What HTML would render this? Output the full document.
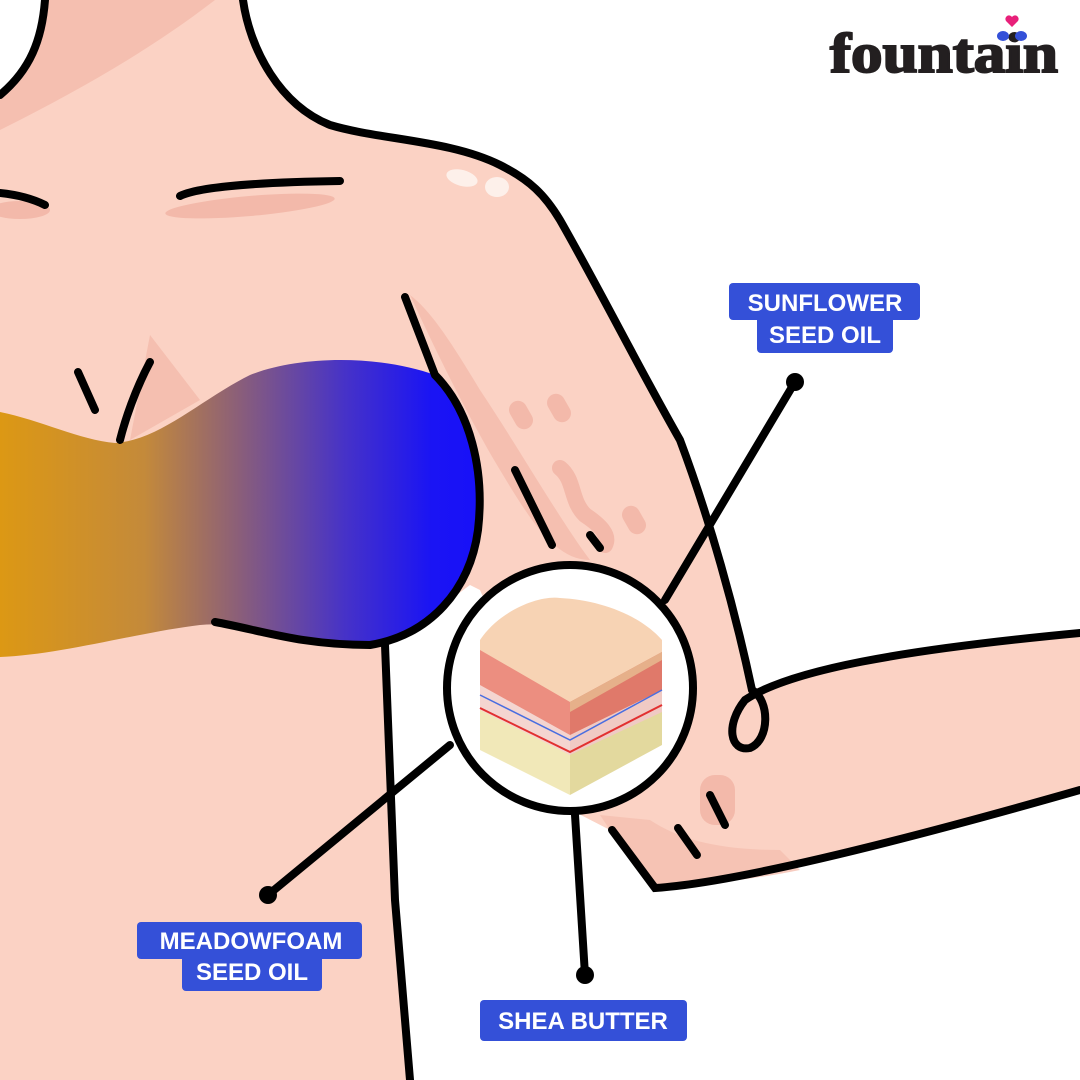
<!DOCTYPE html>
<html><head><meta charset="utf-8"><style>
html,body{margin:0;padding:0;background:#fff;}
svg{display:block}
</style></head><body>
<svg width="1080" height="1080" viewBox="0 0 1080 1080" xmlns="http://www.w3.org/2000/svg">
<defs>
<linearGradient id="g" x1="0" x2="1" y1="0" y2="0">
<stop offset="0" stop-color="#dc9814"/>
<stop offset="0.3" stop-color="#c48a3a"/>
<stop offset="0.5" stop-color="#8a5e7a"/>
<stop offset="0.72" stop-color="#4632c8"/>
<stop offset="0.9" stop-color="#1a14f4"/>
<stop offset="1" stop-color="#1810f8"/>
</linearGradient>
</defs>
<rect width="1080" height="1080" fill="#fff"/>
<!-- skin main -->
<path d="M45,0 L243,0 C250,50 280,105 330,125 C380,140 450,140 500,165 C530,180 545,195 560,220 C600,290 640,370 680,440 C710,520 735,610 752,690 C820,665 950,645 1080,633 L1080,790 C950,830 800,870 655,888 L610,830 L575,812 L480,590 L470,585 L385,648 L395,900 L410,1080 L0,1080 L0,95 C30,70 42,40 45,0 Z" fill="#fbd2c4"/>
<!-- shadows -->
<path d="M45,0 L215,0 C150,50 80,90 0,130 L0,95 C30,70 42,40 45,0Z" fill="#f5bfb0"/>
<path d="M410,295 C440,360 470,420 500,470 C530,520 555,560 590,560 C560,520 520,450 480,390 C450,340 430,310 410,295Z" fill="#f5bfb0"/>
<path d="M150,335 L200,400 L130,440 Z" fill="#f5bfb0"/>
<path d="M600,815 L610,830 L655,888 C700,885 750,880 800,870 L780,850 C720,850 680,840 650,820 Z" fill="#f5bfb0" opacity="0.8"/>
<ellipse cx="250" cy="206" rx="85" ry="10" fill="#f3b9aa" transform="rotate(-5 250 206)"/>
<ellipse cx="20" cy="210" rx="30" ry="9" fill="#f3b9aa"/>
<rect x="512" y="400" width="18" height="30" rx="9" fill="#f3b9aa" transform="rotate(-30 521 415)"/>
<rect x="550" y="393" width="18" height="30" rx="9" fill="#f3b9aa" transform="rotate(-30 559 408)"/>
<path d="M560,468 C575,480 570,500 585,515 C600,525 610,535 605,545" fill="none" stroke="#f3b9aa" stroke-width="16" stroke-linecap="round"/>
<rect x="625" y="505" width="18" height="30" rx="9" fill="#f3b9aa" transform="rotate(-30 634 520)"/>
<rect x="700" y="775" width="35" height="50" rx="15" fill="#f3b9aa"/>
<ellipse cx="462" cy="178" rx="16" ry="8" fill="#fdf0ea" transform="rotate(15 462 178)"/>
<ellipse cx="497" cy="187" rx="12" ry="10" fill="#fdf0ea"/>
<!-- bandeau -->
<path d="M0,412 C40,420 80,440 115,443 C160,440 200,400 250,375 C300,355 380,355 435,375 C470,410 485,470 478,530 C470,590 430,635 370,645 C300,645 250,620 200,625 C140,632 60,655 0,657 Z" fill="url(#g)"/>
<g fill="none" stroke="#000" stroke-width="8" stroke-linecap="round">
<path d="M45,0 C42,40 30,70 0,95"/>
<path d="M243,0 C250,50 280,105 330,125 C380,140 450,140 500,165 C530,180 545,195 560,220 C600,290 640,370 680,440 C710,520 735,610 752,690"/>
<path d="M752,690 C770,700 770,740 750,748 C730,752 725,725 745,700 C790,670 900,650 1080,633"/>
<path d="M612,830 L655,888 C700,885 800,870 1080,790"/>
<path d="M215,622 C260,630 300,645 370,645 C430,635 470,590 478,530 C485,470 470,410 435,375 L405,297"/>
<path d="M385,645 L395,900 L410,1080"/>
<path d="M180,196 C200,186 270,182 340,181"/>
<path d="M0,193 C20,195 35,200 45,205"/>
<path d="M78,372 L95,410"/>
<path d="M150,362 C135,390 125,420 120,440"/>
<path d="M515,470 L552,545"/>
<path d="M590,535 L600,548"/>
<path d="M710,795 L725,825"/>
<path d="M678,828 L697,855"/>
<path d="M575,815 L585,975"/>
<path d="M450,745 L268,895"/>
<path d="M795,382 L665,600"/>
</g>
<circle cx="795" cy="382" r="9" fill="#000"/>
<circle cx="268" cy="895" r="9" fill="#000"/>
<circle cx="585" cy="975" r="9" fill="#000"/>
<!-- magnifier circle -->
<circle cx="570" cy="688" r="123" fill="#fff" stroke="#000" stroke-width="8"/>
<!-- skin cube -->
<path d="M480,645 L570,700 L570,795 L480,750 Z" fill="#f1e8b8"/>
<path d="M570,700 L662,650 L662,745 L570,795 Z" fill="#e3d99e"/>
<path d="M480,645 L570,700 L570,740 L480,690 Z" fill="#ec8e80"/>
<path d="M570,700 L662,650 L662,690 L570,740 Z" fill="#e0796a"/>
<path d="M480,685 L570,735 L570,755 L480,710 Z" fill="#f4d5d0"/>
<path d="M570,735 L662,690 L662,712 L570,755 Z" fill="#f0cac4"/>
<path d="M480,695 L570,740 L662,690" fill="none" stroke="#4a6ee0" stroke-width="1.5"/>
<path d="M480,708 L570,752 L662,705" fill="none" stroke="#e23030" stroke-width="2"/>
<path d="M480,640 C500,610 540,595 560,598 C600,600 640,615 662,640 L662,652 L570,702 L480,650 Z" fill="#f7d3b4"/>
<path d="M570,702 L662,652 L662,660 L570,712 Z" fill="#e6b08a"/>
<!-- labels -->
<g font-family="Liberation Sans, sans-serif" font-weight="bold" font-size="24" fill="#fff" text-anchor="middle">
<rect x="729" y="283" width="191" height="37" rx="4" fill="#3450d8"/>
<rect x="757" y="316" width="136" height="37" rx="4" fill="#3450d8"/>
<text x="825" y="311">SUNFLOWER</text>
<text x="825" y="343">SEED OIL</text>
<rect x="137" y="922" width="225" height="37" rx="4" fill="#3450d8"/>
<rect x="182" y="955" width="140" height="36" rx="4" fill="#3450d8"/>
<text x="251" y="949">MEADOWFOAM</text>
<text x="252" y="980">SEED OIL</text>
<rect x="480" y="1000" width="207" height="41" rx="4" fill="#3450d8"/>
<text x="583" y="1029">SHEA BUTTER</text>
</g>
<!-- logo -->
<text x="830" y="72" font-family="Liberation Serif, serif" font-weight="bold" font-size="56" fill="#231f20" textLength="228" lengthAdjust="spacingAndGlyphs" stroke="#231f20" stroke-width="2">fountain</text>
<path d="M1012,27 l-6,-6 a3.5,3.5 0 0 1 6,-4 a3.5,3.5 0 0 1 6,4 Z" fill="#e8207a"/>
<ellipse cx="1003" cy="36" rx="6" ry="5" fill="#3450d8"/>
<ellipse cx="1021" cy="36" rx="6" ry="5" fill="#3450d8"/>
</svg>
</body></html>
